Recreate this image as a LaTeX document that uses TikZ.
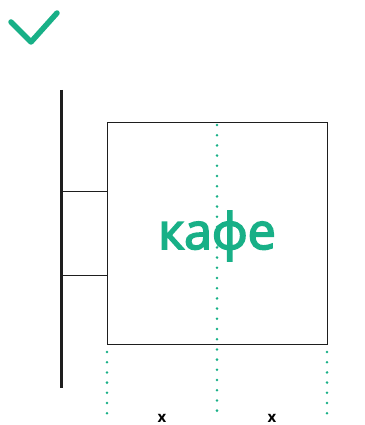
\documentclass[tikz,border=0pt]{standalone}
\usepackage{fontspec}
\setmainfont{Open Sans}
\newfontfamily\signfont{Open Sans}[FakeBold=3.5]
\usepackage{xcolor}
\usepackage{tikz}
\usetikzlibrary{positioning, calc}
\definecolor{signgreen}{RGB}{24, 176, 135}
\definecolor{darkline}{RGB}{30, 30, 30}
\tikzstyle{guide} = [
    signgreen,
    line width=2.8pt,
    line cap=round,
    dash pattern=on 0pt off 10.2pt
]
\tikzstyle{bracket} = [
    darkline,
    line width=1pt
]
\tikzstyle{dimlabel} = [
    font=\bfseries\fontsize{15}{15}\selectfont,
    inner sep=0pt
]

\begin{document}
\begin{tikzpicture}[x=1pt, y=-1pt]
        \useasboundingbox (0, 0) rectangle (364, 425);
        % Check mark
        \draw[signgreen, line width=5.5pt, line cap=round, line join=round]
            (11, 22) -- (31, 42) -- (57, 13);

        % Wall
        \coordinate (walltop) at (61, 90);
        \coordinate (wallbot) at (61, 388);
        \draw[darkline, line width=3pt] (walltop) -- (wallbot);

        % Sign
        \node[draw=darkline, line width=1pt, minimum width=220pt, minimum height=222pt,
              inner sep=0pt, anchor=north west] (sign) at (107, 122) {};
        \node[signgreen, font=\signfont\fontsize{50}{50}\selectfont, inner sep=0pt]
            (cafe) at (217, 236) {кафе};

        % Brackets
        \coordinate (b1) at (61, 191);
        \coordinate (b2) at (61, 275);
        \draw[bracket] (b1) -- (b1 -| sign.west);
        \draw[bracket] (b2) -- (b2 -| sign.west);

        % Guides
        \coordinate (gleft) at (107, 352);
        \coordinate (gright) at (327, 352);
        \coordinate (gmid) at (217, 125);
        \draw[guide] (gleft) -- ++(0, 64);
        \draw[guide] (gright) -- ++(0, 64);
        \draw[guide] (gmid) -- ++(0, 292);

        % Labels
        \node[dimlabel] (xa) at (162, 418) {x};
        \node[dimlabel] (xb) at (272, 418) {x};
    \end{tikzpicture}
\end{document}
